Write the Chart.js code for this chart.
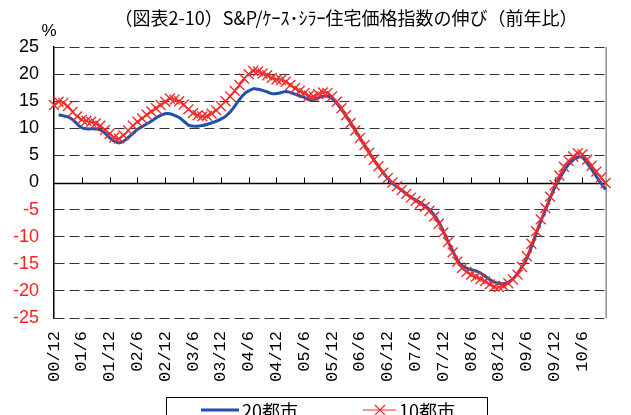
<!DOCTYPE html>
<html><head><meta charset="utf-8">
<script src="https://cdn.jsdelivr.net/npm/chart.js@4/dist/chart.umd.min.js"></script>
<style>html,body{margin:0;padding:0;background:#fff;}#wrap{width:631px;height:415px;position:relative;}</style>
</head><body><div id="wrap"><canvas id="c" width="631" height="415"></canvas></div>
<script>
const titleText = '（図表2-10）S&P/ｹｰｽ･ｼﾗｰ住宅価格指数の伸び（前年比）';
const unitText = '%';
const categories = [
 '00/12',
 '01/1','01/2','01/3','01/4','01/5','01/6','01/7','01/8','01/9','01/10','01/11','01/12',
 '02/1','02/2','02/3','02/4','02/5','02/6','02/7','02/8','02/9','02/10','02/11','02/12',
 '03/1','03/2','03/3','03/4','03/5','03/6','03/7','03/8','03/9','03/10','03/11','03/12',
 '04/1','04/2','04/3','04/4','04/5','04/6','04/7','04/8','04/9','04/10','04/11','04/12',
 '05/1','05/2','05/3','05/4','05/5','05/6','05/7','05/8','05/9','05/10','05/11','05/12',
 '06/1','06/2','06/3','06/4','06/5','06/6','06/7','06/8','06/9','06/10','06/11','06/12',
 '07/1','07/2','07/3','07/4','07/5','07/6','07/7','07/8','07/9','07/10','07/11','07/12',
 '08/1','08/2','08/3','08/4','08/5','08/6','08/7','08/8','08/9','08/10','08/11','08/12',
 '09/1','09/2','09/3','09/4','09/5','09/6','09/7','09/8','09/9','09/10','09/11','09/12',
 '10/1','10/2','10/3','10/4','10/5','10/6','10/7','10/8','10/9','10/10','10/11'
];
const tickLabels = ['00/12','01/6','01/12','02/6','02/12','03/6','03/12','04/6','04/12','05/6','05/12','06/6','06/12','07/6','07/12','08/6','08/12','09/6','09/12','10/6'];
const seriesNames = ['20都市','10都市'];
const city20 = [
 null, 12.5, 12.3, 12.1, 11.6, 10.8, 10.1, 9.9, 9.9, 9.9, 9.7, 9.1,
 8.3, 7.6, 7.3, 7.6, 8.3, 9.0, 9.8, 10.3, 10.8, 11.3, 11.9, 12.4,
 12.7, 12.7, 12.4, 12.0, 11.3, 10.6, 10.4, 10.4, 10.5, 10.7, 11.0, 11.3,
 11.7, 12.2, 13.0, 14.1, 15.3, 16.3, 16.9, 17.3, 17.2, 17.0, 16.7, 16.4,
 16.4, 16.6, 16.8, 16.6, 16.3, 16.0, 15.7, 15.3, 15.3, 15.6, 15.9, 15.9,
 15.5, 14.6, 13.5, 12.3, 11.0, 9.6, 8.2, 6.9, 5.5, 4.2, 3.0, 1.8,
 0.8, -0.1, -0.8, -1.4, -2.1, -2.7, -3.2, -3.7, -4.3, -5.0, -6.0, -7.3,
 -9.0, -10.9, -12.6, -14.3, -15.3, -15.8, -16.1, -16.3, -16.7, -17.3, -17.9, -18.4,
 -18.6, -18.7, -18.4, -17.8, -16.8, -15.5, -14.0, -11.9, -9.5, -7.2, -5.1, -3.0,
 -1.0, 0.6, 2.1, 3.3, 4.2, 4.7, 4.6, 3.6, 2.4, 1.1, -0.1, -1.3
];
const city10 = [
 14.3, 14.9, 14.7, 14.1, 13.0, 12.2, 11.6, 11.4, 11.2, 10.9, 10.5, 9.7,
 9.0, 8.3, 8.1, 8.7, 9.6, 10.5, 11.2, 11.8, 12.5, 13.1, 13.7, 14.3,
 14.9, 15.5, 15.3, 15.0, 14.4, 13.5, 12.8, 12.4, 12.2, 12.3, 12.7, 13.3,
 14.1, 15.0, 15.9, 16.9, 18.0, 19.2, 20.0, 20.6, 20.5, 20.1, 19.8, 19.3,
 19.0, 18.9, 18.6, 18.0, 17.4, 16.9, 16.5, 16.0, 15.9, 16.3, 16.6, 16.5,
 15.9, 14.9, 13.7, 12.4, 11.0, 9.6, 8.2, 6.9, 5.5, 4.2, 3.0, 1.8,
 0.8, 0.0, -0.7, -1.4, -2.1, -2.8, -3.4, -3.9, -4.5, -5.2, -6.3, -7.6,
 -9.2, -11.0, -12.9, -14.6, -15.8, -16.5, -17.0, -17.4, -17.8, -18.2, -18.8, -19.2,
 -19.3, -19.1, -18.6, -17.9, -17.0, -15.6, -13.6, -11.3, -9.0, -6.8, -4.7, -2.6,
 -0.5, 1.3, 2.9, 4.0, 4.8, 5.4, 5.2, 4.2, 3.1, 2.0, 0.9, -0.1
];

const BLUE = '#1f52a8';
const RED = '#f42a2a';
const NEG = '#ff2020';
const NUMFONT = '"Liberation Sans Narrow","Liberation Sans","Noto Sans CJK JP",sans-serif';
const XFONT = '"Liberation Mono","DejaVu Sans Mono",monospace';
const JPFONT = '"Noto Sans CJK JP",sans-serif';

const deco = {
  id: 'deco',
  beforeDatasetsDraw(chart) {
    const {ctx, chartArea: a, scales: {x, y}} = chart;
    const y0 = Math.round(y.getPixelForValue(0)) + 0.5;
    ctx.save();
    ctx.strokeStyle = '#000';
    ctx.lineWidth = 1.3;
    ctx.beginPath(); ctx.moveTo(a.left, y0); ctx.lineTo(a.right, y0); ctx.stroke();
    ctx.lineWidth = 1;
    categories.forEach((c, i) => {
      if (i > 0 && tickLabels.includes(c)) {
        const px = Math.round(x.getPixelForValue(i)) + 0.5;
        ctx.beginPath(); ctx.moveTo(px, y0); ctx.lineTo(px, y0 - 6); ctx.stroke();
      }
    });
    ctx.strokeStyle = '#555';
    ctx.beginPath(); ctx.moveTo(a.right + 0.5, a.top); ctx.lineTo(a.right + 0.5, a.bottom); ctx.stroke();
    ctx.restore();
  },
  afterDraw(chart) {
    const ctx = chart.ctx;
    ctx.save();
    ctx.fillStyle = '#000';
    ctx.textBaseline = 'middle';
    ctx.textAlign = 'center';
    ctx.font = '18px ' + JPFONT;
    ctx.fillText(titleText, 346, 18);
    ctx.font = '17px ' + NUMFONT;
    ctx.fillText(unitText, 49, 31);
    // legend
    const lx = 166, ly = 397, lw = 321;
    ctx.strokeStyle = '#000'; ctx.lineWidth = 1;
    ctx.strokeRect(lx + 0.5, ly + 0.5, lw, 40);
    const ty = 410;
    ctx.strokeStyle = BLUE; ctx.lineWidth = 3;
    ctx.beginPath(); ctx.moveTo(201, ty); ctx.lineTo(239, ty); ctx.stroke();
    ctx.strokeStyle = RED; ctx.lineWidth = 1.2;
    ctx.beginPath(); ctx.moveTo(363, ty); ctx.lineTo(396, ty); ctx.stroke();
    ctx.beginPath(); ctx.moveTo(375, ty - 5); ctx.lineTo(385, ty + 5); ctx.moveTo(385, ty - 5); ctx.lineTo(375, ty + 5); ctx.stroke();
    ctx.fillStyle = '#000';
    ctx.textAlign = 'left';
    ctx.font = '18px ' + JPFONT;
    ctx.fillText(seriesNames[0], 242, ty + 1);
    ctx.fillText(seriesNames[1], 399, ty + 1);
    ctx.restore();
  }
};

new Chart(document.getElementById('c'), {
  type: 'line',
  data: {
    labels: categories,
    datasets: [
      {label: seriesNames[0], data: city20, borderColor: BLUE, backgroundColor: BLUE, borderWidth: 3,
       pointRadius: 0, tension: 0.35, order: 1, fill: false},
      {label: seriesNames[1], data: city10, borderColor: RED, backgroundColor: RED, borderWidth: 1.4,
       pointStyle: 'crossRot', pointRadius: 7, pointBorderColor: RED, pointBorderWidth: 1.4,
       tension: 0.35, order: 0, fill: false}
    ]
  },
  options: {
    responsive: false, animation: false, devicePixelRatio: 1,
    layout: {padding: {top: 47, right: 11, left: 0, bottom: 0}},
    plugins: {legend: {display: false}, title: {display: false}, tooltip: {enabled: false}},
    scales: {
      x: {
        type: 'category', offset: false,
        grid: {display: false}, border: {display: false},
        ticks: {autoSkip: false, maxRotation: 90, minRotation: 90, padding: 5, color: '#000',
          font: {family: XFONT, size: 17},
          callback: function(v, i) { const l = categories[i]; return tickLabels.includes(l) ? l : ''; }},
        afterFit(s) { s.height = 97; }
      },
      y: {
        min: -25, max: 25,
        grid: {color: (c) => (c.tick && c.tick.value === 0) ? 'rgba(0,0,0,0)' : '#333', lineWidth: 1, drawTicks: false},
        border: {display: true, color: '#000', width: 1.5, dash: [10, 5]},
        ticks: {stepSize: 5, padding: 15, color: (c) => c.tick.value < 0 ? NEG : '#000',
          font: {family: NUMFONT, size: 18}},
        afterFit(s) { s.width = 54; }
      }
    }
  },
  plugins: [deco]
});
</script></body></html>
